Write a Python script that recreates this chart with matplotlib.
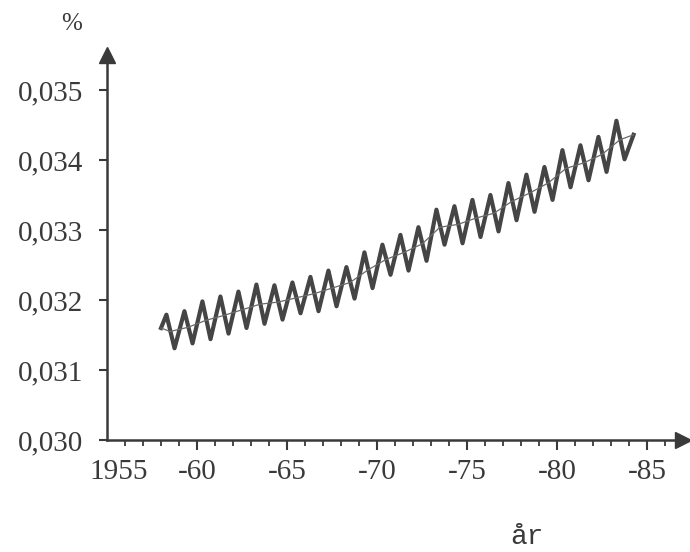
import matplotlib
matplotlib.use("Agg")
import matplotlib.pyplot as plt
import matplotlib.transforms as mtransforms

# data (CO2 share of the air, %)
years = list(range(1958, 1984))
peaks = [0.03179, 0.03184, 0.03198, 0.03205, 0.03212, 0.03222, 0.03221, 0.03225,
         0.03233, 0.03242, 0.03247, 0.03268, 0.03279, 0.03293, 0.03304, 0.03329,
         0.03334, 0.03343, 0.03350, 0.03367, 0.03379, 0.03390, 0.03414, 0.03421,
         0.03433, 0.03456]
troughs = [0.03131, 0.03138, 0.03144, 0.03152, 0.03160, 0.03166, 0.03172, 0.03181,
           0.03184, 0.03191, 0.03202, 0.03217, 0.03236, 0.03242, 0.03256, 0.03279,
           0.03281, 0.03290, 0.03298, 0.03314, 0.03326, 0.03343, 0.03361, 0.03371,
           0.03383, 0.03401]
trend = [0.03155, 0.03161, 0.03171, 0.03178, 0.03186, 0.03194, 0.03197, 0.03203,
         0.03209, 0.03217, 0.03225, 0.03243, 0.03258, 0.03268, 0.03280, 0.03304,
         0.03308, 0.03317, 0.03324, 0.03341, 0.03353, 0.03367, 0.03388, 0.03396,
         0.03408, 0.03429]
start_year, start_value = 1958.0, 0.03160
end_year, end_value = 1984.25, 0.03436

x_major = [1960, 1965, 1970, 1975, 1980, 1985]
x_labels = ['-60', '-65', '-70', '-75', '-80', '-85']
x_minor = [y for y in range(1956, 1987) if y % 5 != 0]
y_ticks = [0.030, 0.031, 0.032, 0.033, 0.034, 0.035]
y_labels = ['0,030', '0,031', '0,032', '0,033', '0,034', '0,035']

ink = '#3a3a3a'
serif = ['Liberation Serif', 'DejaVu Serif']

# seasonal curve: start, then peak (spring) and trough (autumn) each year
cx = [start_year]
cy = [start_value]
for yr, p, t in zip(years, peaks, troughs):
    cx += [yr + 0.3, yr + 0.75]
    cy += [p, t]
cx.append(end_year)
cy.append(end_value)

tx = [start_year] + [yr + 0.5 for yr in years] + [end_year]
ty = [start_value] + trend + [end_value]

fig = plt.figure(figsize=(6.9, 5.52), dpi=100)
ax = fig.add_axes([0.1551, 0.2029, 0.8348, 0.6975])

ax.plot(cx, cy, color='#454545', lw=3.0)
ax.plot(tx, ty, color='#6a6a6a', lw=0.9)

ax.set_xlim(1955, 1987)
ax.set_ylim(0.030, 0.0355)

for side in ['top', 'right']:
    ax.spines[side].set_visible(False)
for side in ['left', 'bottom']:
    ax.spines[side].set_linewidth(1.8)
    ax.spines[side].set_color(ink)

# arrow heads on the axes
ax.plot(1, 0, '>', color=ink, ms=11, transform=ax.transAxes, clip_on=False)
ax.plot(0, 1, '^', color=ink, ms=12, transform=ax.transAxes, clip_on=False)

ax.set_xticks(x_major)
ax.set_xticklabels(x_labels)
ax.set_xticks(x_minor, minor=True)
ax.set_yticks(y_ticks)
ax.set_yticklabels(y_labels)

ax.tick_params(axis='x', which='major', length=7.5, width=1.5, pad=6,
               color=ink, labelcolor=ink, labelsize=21)
ax.tick_params(axis='x', which='minor', length=4, width=1.3, color=ink)
ax.tick_params(axis='y', length=6, width=1.5, pad=11,
               color=ink, labelcolor=ink, labelsize=21)
for lab in ax.get_xticklabels() + ax.get_yticklabels():
    lab.set_family(serif)

# first year label sits just right of the corner, no tick mark there
off = mtransforms.ScaledTranslation(0, -(7.5 + 6) / 72, fig.dpi_scale_trans)
ax.text(1955.65, 0, '1955', transform=ax.get_xaxis_transform() + off,
        ha='center', va='top', fontsize=21, color=ink, family=serif)

fig.text(72 / 690, 1 - 24 / 552, '%', ha='center', va='center',
         fontsize=18, color=ink, family=serif)
fig.text(527 / 690, 1 - 537 / 552, 'år', ha='center', va='center',
         fontsize=20, color=ink, family=['Liberation Mono', 'DejaVu Sans Mono'])

fig.savefig('out.png', dpi=100)
